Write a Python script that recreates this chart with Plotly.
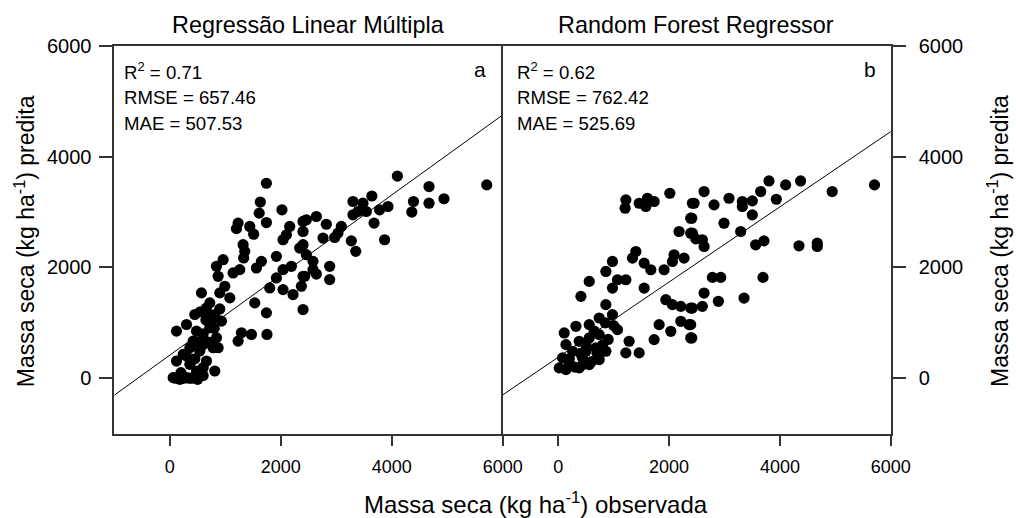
import plotly.graph_objects as go

# ---- data ----
rlm_obs = [1740,1630,1610,2020,1740,1230,1200,1440,1510,2160,2100,2040,2400,1320,1350,1330,960,840,870,1140,
           1260,1650,1560,1920,2340,2190,2040,1920,1800,2040,2220,2400,2370,2400,990,900,1080,570,1530,1740,
           720,660,450,810,930,120,300,480,720,840,1290,1230,1470,1750,420,360,600,780,870,240,
           120,360,600,810,60,180,300,480,660,540,100,250,400,500,
           650,750,600,500,700,450,300,200,350,600,800,900,550,700,
           4100,5710,4670,4940,4670,4390,4360,3640,3300,3480,3540,3390,3300,3780,3930,3680,2640,2460,2400,2820,
           3090,3030,2970,2760,3270,3350,3870,2400,2460,2580,2580,2640,2880,2880,2430]
rlm_pred = [3520,3180,2980,3040,2810,2800,2700,2740,2600,2740,2590,2500,2830,2410,2290,2170,2140,2020,1840,1900,
            1960,2110,1990,2200,2350,2020,1960,1810,1630,1600,1510,1840,1660,1240,1660,1540,1450,1540,1360,1180,
            1360,1270,1150,1150,1030,850,970,850,910,730,820,670,790,790,670,550,610,550,550,430,
            310,250,190,130,10,-20,10,130,310,490,0,0,0,-20,
            1050,1050,800,650,650,350,400,100,0,50,900,1250,1200,1150,
            3650,3490,3460,3240,3160,3190,3000,3290,3190,3160,3010,3010,2950,3040,3100,2800,2920,2860,2650,2780,
            2740,2620,2540,2530,2480,2290,2500,2410,2230,2110,1960,1880,2020,1780,1840]

rfr_obs = [1220,1207,1460,1609,1730,1580,2013,2420,2390,2180,2390,2481,1400,1339,1550,1670,2090,2270,2060,1910,
           978,859,559,409,1069,1220,978,1550,859,978,1069,1941,2060,2211,2390,1820,2031,2211,2360,2390,
           1730,1279,1220,1460,108,319,559,739,139,378,559,739,859,679,258,78,198,18,139,378,
           559,438,739,499,
           300,450,600,700,800,900,500,650,1000,850,200,400,
           3802,4103,4373,5706,4943,3653,3935,3501,3321,3321,3081,2631,2451,2811,2409,3501,2991,3292,2420,2600,
           2631,3562,3712,4343,4673,4673,2781,2932,3694,2631,2889,3352,2420,2600,2390,2409]
rfr_pred = [3220,3069,3159,3249,3190,3100,3339,3159,2889,2649,2618,2516,2288,2168,2078,1958,2228,2168,2108,1958,
            2108,1928,1748,1478,1778,1778,1627,1627,1328,1147,877,1418,1328,1297,1267,967,847,1027,967,727,
            697,667,457,457,817,937,967,1087,607,667,727,787,487,547,487,367,247,186,156,186,
            247,367,337,487,
            200,250,300,450,600,700,600,850,950,1000,350,450,
            3562,3490,3562,3490,3370,3370,3231,3201,3190,3100,3249,3370,3159,3129,2889,2949,2799,2649,2618,2499,
            2379,2408,2480,2390,2438,2379,1820,1820,1820,1537,1388,1447,1267,1297,967,727]

# fitted lines (slope, intercept)
rlm_fit = (0.723, 417)
rfr_fit = (0.679, 379)
line_x = [-1000, 6000]

titles = ["Regressão Linear Múltipla", "Random Forest Regressor"]
stats = [["R<sup>2</sup> = 0.71", "RMSE = 657.46", "MAE = 507.53"],
         ["R<sup>2</sup> = 0.62", "RMSE = 762.42", "MAE = 525.69"]]
letters = ["a", "b"]
tickvals = [0, 2000, 4000, 6000]
ytitle = "Massa seca (kg ha<sup>-1</sup>) predita"
xtitle = "Massa seca (kg ha<sup>-1</sup>) observada"

# The capture shows the page at ~0.982 scale with ~9px offset at the top,
# so lay the figure out in that space.
S, OY = 0.982, 9.0
W, H = 1035, 518


def px(xs):
    return xs / S / W


def py(ys):
    return 1 - (ys - OY) / S / H


L, R, T, B = 114.5, 892, 44, 433
MID = 503.5

fig = go.Figure()
for i, (ox, pr, fit) in enumerate([(rlm_obs, rlm_pred, rlm_fit), (rfr_obs, rfr_pred, rfr_fit)]):
    xa = "x" if i == 0 else "x2"
    ya = "y" if i == 0 else "y2"
    fig.add_trace(go.Scatter(x=line_x, y=[fit[0] * v + fit[1] for v in line_x], mode="lines",
                             line=dict(color="black", width=1), xaxis=xa, yaxis=ya, showlegend=False))
    fig.add_trace(go.Scatter(x=ox, y=pr, mode="markers",
                             marker=dict(color="black", size=11.2, line=dict(width=0)),
                             xaxis=xa, yaxis=ya, showlegend=False))

font_main = "Liberation Sans, Arial, sans-serif"

xcommon = dict(range=[-1000, 6000], tickvals=tickvals, ticks="outside", ticklen=10.2, tickwidth=1.5,
               tickcolor="#333", showline=True, linecolor="#333", linewidth=1.5, mirror=True,
               showgrid=False, zeroline=False, ticklabelstandoff=6,
               tickfont=dict(family=font_main, size=18, color="black"))
ycommon = dict(range=[-1000, 6000], tickvals=tickvals, ticks="outside", ticklen=13.2, tickwidth=1.5,
               tickcolor="#333", showline=True, linecolor="#333", linewidth=1.5,
               showgrid=False, zeroline=False,
               tickfont=dict(family=font_main, size=20, color="black"))

ydom = [py(B), py(T)]
fig.update_layout(
    width=W, height=H, autosize=False,
    margin=dict(l=0, r=0, t=0, b=0),
    paper_bgcolor="white", plot_bgcolor="white",
    xaxis=dict(domain=[px(L), px(MID)], anchor="y", **xcommon),
    xaxis2=dict(domain=[px(MID), px(R)], anchor="y2", **xcommon),
    # left panel: no mirrored right line (the right panel's left line is the shared divider)
    yaxis=dict(domain=ydom, anchor="x", side="left", ticklabelstandoff=4, mirror=False, **ycommon),
    yaxis2=dict(domain=ydom, anchor="x2", side="right", ticklabelstandoff=9, mirror=True, **ycommon),
)

ann = []
centers = [309, 697]
stat_x = [122, 516]
letter_x = [481, 871]
for i in range(2):
    ann.append(dict(text=titles[i], x=px(centers[i]), y=py(23), xref="paper", yref="paper",
                    showarrow=False, xanchor="center", yanchor="middle",
                    font=dict(family=font_main, size=23.4, color="black")))
    for j, t in enumerate(stats[i]):
        ann.append(dict(text=t, x=px(stat_x[i]), y=py(69 + 26.5 * j), xref="paper", yref="paper",
                        showarrow=False, xanchor="left", yanchor="middle",
                        font=dict(family=font_main, size=18.6, color="black")))
    ann.append(dict(text=letters[i], x=px(letter_x[i]), y=py(68), xref="paper", yref="paper",
                    showarrow=False, xanchor="center", yanchor="middle",
                    font=dict(family=font_main, size=21, color="black")))
ann.append(dict(text=xtitle, x=px(537), y=py(503),
                xref="paper", yref="paper", showarrow=False, xanchor="center", yanchor="middle",
                font=dict(family=font_main, size=24, color="black")))
for xc in (25, 1000):
    ann.append(dict(text=ytitle, x=px(xc), y=py(240), xref="paper", yref="paper",
                    showarrow=False, xanchor="center", yanchor="middle", textangle=-90,
                    font=dict(family=font_main, size=23, color="black")))
fig.update_layout(annotations=ann)

fig.write_html("out.html")
